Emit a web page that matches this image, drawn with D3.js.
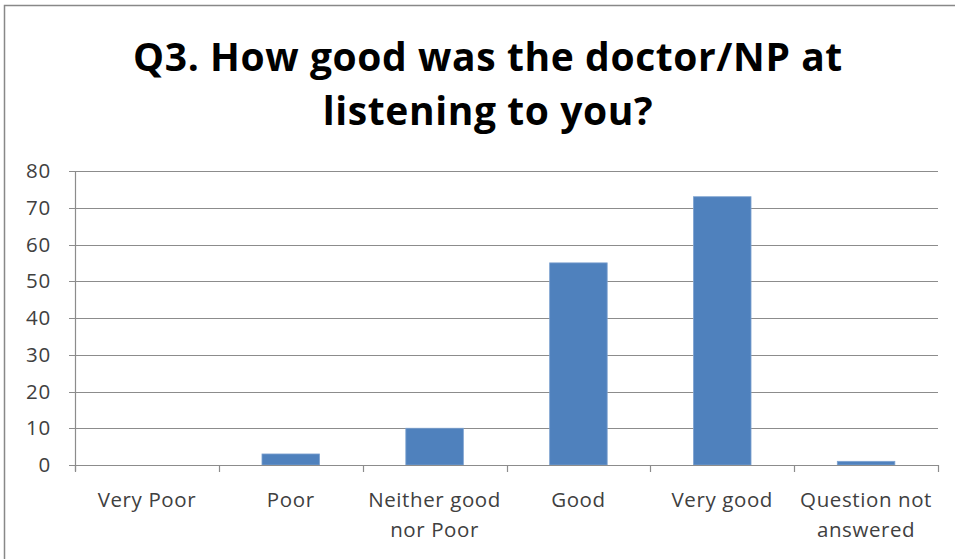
<!DOCTYPE html>
<html>
<head>
<meta charset="utf-8">
<script src="https://cdn.jsdelivr.net/npm/d3@7"></script>
<style>
  body { margin: 0; background: #fff; }
  text { font-family: "Open Sans", Lato, sans-serif; }
</style>
</head>
<body>
<script>
// data
var categories = ["Very Poor", "Poor", "Neither good nor Poor", "Good", "Very good", "Question not answered"];
var labelLines = [["Very Poor"], ["Poor"], ["Neither good", "nor Poor"], ["Good"], ["Very good"], ["Question not", "answered"]];
var counts = [0, 3, 10, 55, 73, 1];
var yTicks = [0, 10, 20, 30, 40, 50, 60, 70, 80];
var titleLines = ["Q3. How good was the doctor/NP at", "listening to you?"];

var w = 955, h = 559;
var svg = d3.select("body").append("svg")
    .attr("width", w)
    .attr("height", h);

// chart frame
svg.append("rect")
    .attr("x", 4.5).attr("y", 5.5)
    .attr("width", 1000).attr("height", 1000)
    .attr("fill", "#fff")
    .attr("stroke", "#888")
    .attr("stroke-width", 1.5);

var plotLeft = 75, plotRight = 938, plotTop = 171, plotBottom = 465;

var x = d3.scaleBand()
    .domain(categories)
    .range([plotLeft, plotRight])
    .paddingInner(0.6)
    .paddingOuter(0.3);

var y = d3.scaleLinear()
    .domain([0, 80])
    .range([plotBottom, plotTop]);

// gridlines
svg.append("g")
    .selectAll("line")
    .data(yTicks)
    .enter().append("line")
    .attr("x1", plotLeft - 6).attr("x2", plotRight)
    .attr("y1", function(d){ return Math.round(y(d)) + 0.5; })
    .attr("y2", function(d){ return Math.round(y(d)) + 0.5; })
    .attr("stroke", "#8c8c8c")
    .attr("stroke-width", 1.2);

// y labels
svg.append("g")
    .selectAll("text")
    .data(yTicks)
    .enter().append("text")
    .attr("x", 51)
    .attr("y", function(d){ return y(d); })
    .attr("dy", "0.35em")
    .attr("text-anchor", "end")
    .attr("font-size", 20.5)
    .attr("letter-spacing", 0.8)
    .attr("fill", "#404040")
    .text(function(d){ return d; });

// bars
svg.append("g")
    .selectAll("rect")
    .data(counts)
    .enter().append("rect")
    .attr("x", function(d, i){ return x(categories[i]); })
    .attr("width", x.bandwidth())
    .attr("y", function(d){ return y(d); })
    .attr("height", function(d){ return y(0) - y(d); })
    .attr("fill", "#4f81bd")
    .attr("stroke", "#7da2d0")
    .attr("stroke-width", 0.8);

// axis lines
svg.append("line")
    .attr("x1", plotLeft + 0.5).attr("x2", plotLeft + 0.5)
    .attr("y1", plotTop).attr("y2", plotBottom + 6)
    .attr("stroke", "#8c8c8c").attr("stroke-width", 1.2);

svg.append("line")
    .attr("x1", plotLeft).attr("x2", plotRight)
    .attr("y1", Math.round(y(0)) + 0.5).attr("y2", Math.round(y(0)) + 0.5)
    .attr("stroke", "#8c8c8c").attr("stroke-width", 1.2);

// category ticks
var step = (plotRight - plotLeft) / categories.length;
svg.append("g")
    .selectAll("line")
    .data(d3.range(categories.length + 1))
    .enter().append("line")
    .attr("x1", function(d){ return Math.round(plotLeft + d * step) + 0.5; })
    .attr("x2", function(d){ return Math.round(plotLeft + d * step) + 0.5; })
    .attr("y1", plotBottom).attr("y2", plotBottom + 7)
    .attr("stroke", "#8c8c8c").attr("stroke-width", 1.2);

// category labels
var xl = svg.append("g")
    .selectAll("text")
    .data(labelLines)
    .enter().append("text")
    .attr("text-anchor", "middle")
    .attr("font-size", 20.5)
    .attr("letter-spacing", 0.6)
    .attr("fill", "#404040");

xl.selectAll("tspan")
    .data(function(d, i){ return d.map(function(t){ return { t: t, i: i }; }); })
    .enter().append("tspan")
    .attr("x", function(d){ return x(categories[d.i]) + x.bandwidth() / 2; })
    .attr("y", function(d, j){ return 507 + j * 30; })
    .text(function(d){ return d.t; });

// title
svg.append("text")
    .attr("text-anchor", "middle")
    .attr("font-size", 39)
    .attr("font-weight", "bold")
    .attr("letter-spacing", 0.6)
    .attr("fill", "#000")
    .selectAll("tspan")
    .data(titleLines)
    .enter().append("tspan")
    .attr("x", 488)
    .attr("y", function(d, i){ return 71 + i * 54; })
    .text(function(d){ return d; });
</script>
</body>
</html>
